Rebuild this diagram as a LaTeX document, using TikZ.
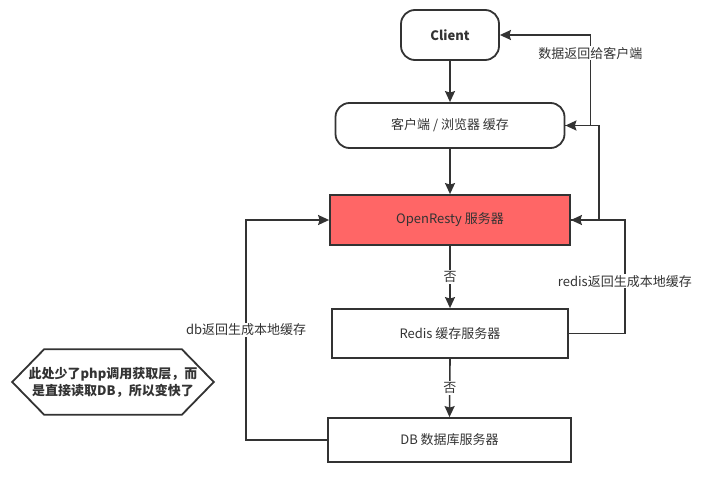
\documentclass[tikz,border=0pt]{standalone}
\usepackage{fontspec}
\setmainfont{Noto Sans CJK SC}
\usetikzlibrary{arrows.meta}
\definecolor{ink}{HTML}{333333}
\definecolor{hotred}{HTML}{FF6666}

\begin{document}
\begin{tikzpicture}[x=1pt, y=-1pt, >={Stealth[length=11pt, width=10pt, inset=1.5pt]},
  font=\fontsize{13}{16}\selectfont, color=ink, line width=1.6pt,
  box/.style={draw=ink, line width=1.8pt, align=center, text=ink},
  pill/.style={box, rounded corners=14pt},
  lbl/.style={fill=white, inner sep=1pt, text=ink},
  note/.style={align=center, text=ink, inner sep=0pt, font=\fontsize{13}{17}\selectfont\bfseries}]

\useasboundingbox (0,0) rectangle (703,487);

% ---------- blocks ----------
\node[pill, minimum width=98pt, minimum height=50pt, font=\fontsize{13}{16}\selectfont\bfseries] (client) at (450,35) {Client};
\node[pill, minimum width=229pt, minimum height=45pt] (cache) at (450,125.5) {客户端 / 浏览器 缓存};
\node[box, fill=hotred, minimum width=240pt, minimum height=50pt] (ors) at (450,220) {OpenResty 服务器};
\node[box, minimum width=236pt, minimum height=49pt] (redis) at (450,333.5) {Redis 缓存服务器};
\node[box, minimum width=243pt, minimum height=44pt] (db) at (449.5,440) {DB 数据库服务器};

% ---------- side note (hexagon) ----------
\node[note, minimum width=200pt, minimum height=64pt] (hint) at (113,382)
  {此处少了php调用获取层，而\\是直接读取DB，所以变快了};
\draw[line width=1.8pt] (hint.west) -- ([xshift=32pt]hint.north west) -- ([xshift=-32pt]hint.north east)
  -- (hint.east) -- ([xshift=-32pt]hint.south east) -- ([xshift=32pt]hint.south west) -- cycle;

% ---------- request path ----------
\draw[->] (client.south) -- (cache.north);
\draw[->] (cache.south) -- (ors.north);
\draw[->] (ors.south) -- (redis.north) node[pos=0.5, lbl]{否};
\draw[->] (redis.south) -- (db.north) node[pos=0.5, lbl]{否};

% ---------- return paths ----------
\draw[->] (redis.east) -- ++(56,0) |- (ors.east) node[pos=0.23, lbl]{redis返回生成本地缓存};
\draw[->] (ors.east) -- ++(28,0) |- (cache.east);
\draw[->] (cache.east) -- ++(25,0) |- (client.east) node[pos=0.4, lbl]{数据返回给客户端};
\draw[->] (db.west) -- ++(-81,0) |- (ors.west) node[pos=0.25, lbl]{db返回生成本地缓存};

\end{tikzpicture}
\end{document}
